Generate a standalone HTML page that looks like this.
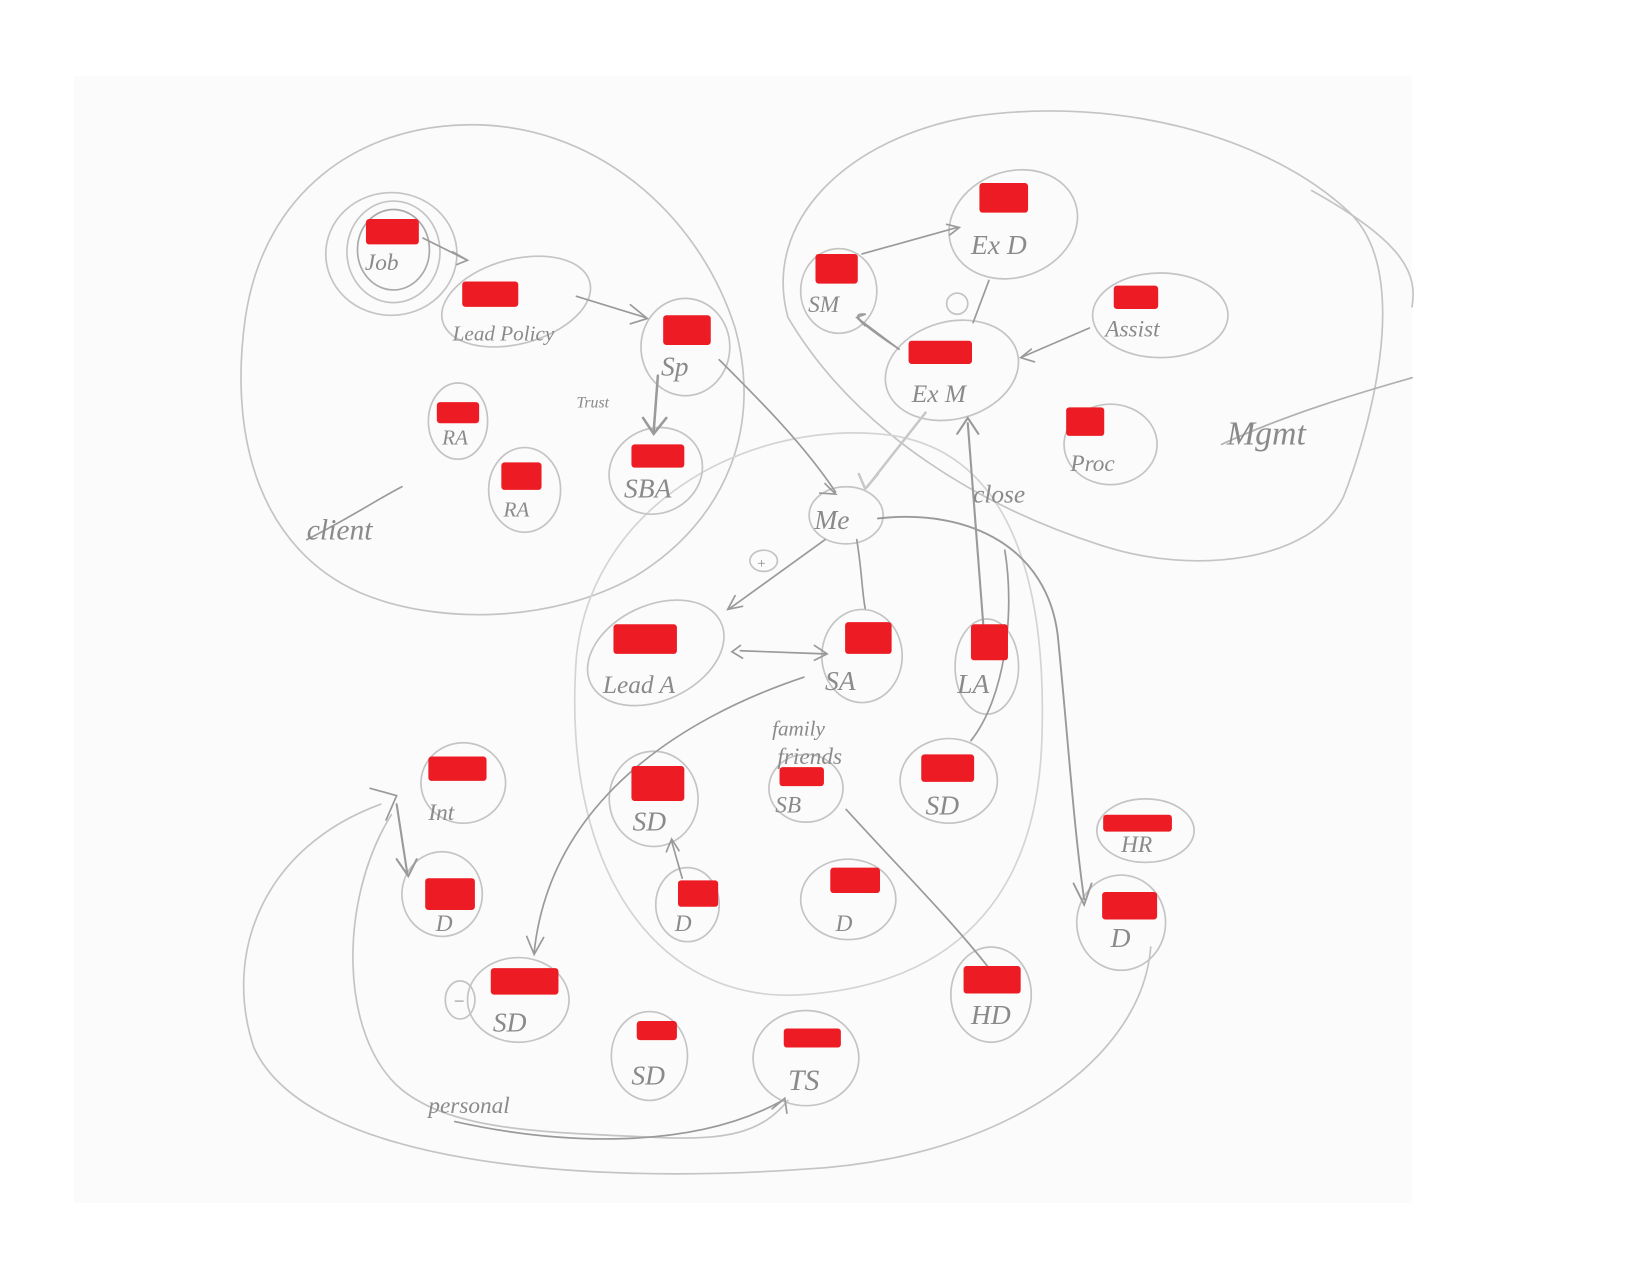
<!DOCTYPE html>
<html><head><meta charset="utf-8"><style>
html,body{margin:0;padding:0;background:#fff;width:1650px;height:1275px;overflow:hidden}
svg{display:block}
text{font-family:"Liberation Serif",serif;font-style:italic;fill:#8a8a8a}
</style></head><body>
<svg width="1650" height="1275" viewBox="0 0 1560 1205" preserveAspectRatio="none" xmlns="http://www.w3.org/2000/svg">
<rect x="0" y="0" width="1560" height="1205" fill="#fff"/>
<rect x="70" y="72" width="1265" height="1065" fill="#fbfbfb"/>
<g fill="none" stroke="#c4c4c4" stroke-width="1.6" stroke-linecap="round">
<!-- client region -->
<path d="M340 560 C250 520 215 420 232 300 C250 180 340 120 440 118 C560 115 660 200 695 310 C720 400 690 490 600 545 C520 590 410 590 340 560"/>
<!-- mgmt region -->
<path d="M745 300 C720 210 800 130 920 110 C1060 90 1200 130 1275 200 C1340 260 1290 420 1270 470 C1240 530 1130 545 1040 515 C930 480 810 410 745 300"/>
<path d="M1240 180 C1330 230 1340 260 1335 290"/>
<!-- center circle -->
<path d="M545 620 C560 480 700 400 830 410 C960 420 990 560 985 700 C980 850 900 930 760 940 C620 950 530 820 545 620" stroke="#d4d4d4"/>
<!-- bottom large loop -->
<path d="M360 760 C250 800 210 900 240 990 C290 1100 550 1120 760 1105 C950 1095 1080 1000 1088 895"/>
<path d="M370 770 C320 850 320 980 380 1030 C430 1070 520 1070 620 1075 C690 1078 720 1070 745 1040"/>
<!-- node ellipses -->
<ellipse cx="370" cy="240" rx="62" ry="58"/>
<ellipse cx="372" cy="238" rx="44" ry="48"/>
<ellipse cx="372" cy="236" rx="34" ry="38" stroke="#aaa"/>
<ellipse cx="488" cy="285" rx="72" ry="40" transform="rotate(-15 488 285)"/>
<ellipse cx="648" cy="328" rx="42" ry="46"/>
<ellipse cx="433" cy="398" rx="28" ry="36"/>
<ellipse cx="620" cy="445" rx="45" ry="40" transform="rotate(-25 620 445)"/>
<ellipse cx="496" cy="463" rx="34" ry="40"/>
<ellipse cx="958" cy="212" rx="62" ry="50" transform="rotate(-20 958 212)"/>
<ellipse cx="793" cy="275" rx="36" ry="40"/>
<ellipse cx="1097" cy="298" rx="64" ry="40"/>
<ellipse cx="900" cy="350" rx="64" ry="46" transform="rotate(-15 900 350)"/>
<ellipse cx="1050" cy="420" rx="44" ry="38"/>
<ellipse cx="800" cy="487" rx="35" ry="27"/>
<ellipse cx="620" cy="617" rx="68" ry="45" transform="rotate(-25 620 617)"/>
<ellipse cx="815" cy="620" rx="38" ry="44"/>
<ellipse cx="933" cy="630" rx="30" ry="45"/>
<ellipse cx="438" cy="740" rx="40" ry="38"/>
<ellipse cx="618" cy="755" rx="42" ry="45"/>
<ellipse cx="762" cy="745" rx="35" ry="32"/>
<ellipse cx="897" cy="738" rx="46" ry="40"/>
<ellipse cx="1083" cy="785" rx="46" ry="30"/>
<ellipse cx="418" cy="845" rx="38" ry="40"/>
<ellipse cx="650" cy="855" rx="30" ry="35"/>
<ellipse cx="802" cy="850" rx="45" ry="38"/>
<ellipse cx="1060" cy="872" rx="42" ry="45"/>
<ellipse cx="490" cy="945" rx="48" ry="40"/>
<ellipse cx="937" cy="940" rx="38" ry="45"/>
<ellipse cx="614" cy="998" rx="36" ry="42"/>
<ellipse cx="762" cy="1000" rx="50" ry="45"/>
<ellipse cx="435" cy="945" rx="14" ry="18"/>
<ellipse cx="722" cy="530" rx="13" ry="10"/>
<ellipse cx="905" cy="287" rx="10" ry="10"/>
</g>
<!-- connectors -->
<g fill="none" stroke="#9a9a9a" stroke-width="1.6" stroke-linecap="round">
<path d="M400 225 L440 245 M428 238 L442 246 L432 250"/>
<path d="M545 280 L610 300 M596 288 L612 301 L596 306"/>
<path d="M622 355 L618 408 M608 395 L618 410 L630 395" stroke-width="2.4"/>
<path d="M680 340 C720 380 760 420 790 465 M780 457 L790 467 L775 466"/>
<path d="M875 390 L820 460 M830 448 L818 462 L812 448" stroke="#c8c8c8" stroke-width="2.4"/>
<path d="M780 510 L690 575 M695 563 L688 576 L702 573"/>
<path d="M810 510 C815 540 815 560 818 575"/>
<path d="M700 615 L780 618 M770 610 L782 618 L770 624 M700 610 L692 616 L702 622"/>
<path d="M915 400 L930 595 M905 410 L915 395 L925 410" stroke-width="2"/>
<path d="M830 490 C920 480 990 520 1000 600 C1010 700 1015 780 1025 850 M1015 835 L1025 855 L1032 835" stroke-width="1.8"/>
<path d="M760 640 C640 680 520 760 505 900 M498 885 L505 902 L514 886"/>
<path d="M635 795 L645 830 M630 805 L635 793 L642 804"/>
<path d="M800 765 C850 820 900 870 935 915"/>
<path d="M950 520 C960 580 950 660 918 700"/>
<path d="M375 760 L385 825 M375 812 L386 828 L394 812" stroke-width="2"/>
<path d="M350 745 L375 752 L365 775"/>
<path d="M430 1060 C520 1080 650 1090 740 1040 M730 1048 L742 1038 L744 1052"/>
<path d="M810 300 L850 330 M818 297 L810 300 L818 308"/>
<path d="M850 330 C820 310 800 295 818 297"/>
<path d="M1030 310 L965 338 M975 330 L965 338 L978 342"/>
<path d="M815 240 L905 215 M895 212 L907 215 L898 222"/>
<path d="M935 265 L920 305"/>
<path d="M290 510 C330 490 360 470 380 460"/>
<path d="M1155 420 C1220 390 1290 370 1335 357" stroke="#b0b0b0"/>
</g>
<!-- labels -->
<g font-size="26">
<text x="345" y="255" font-size="22">Job</text>
<text x="428" y="322" font-size="20">Lead Policy</text>
<text x="625" y="355">Sp</text>
<text x="545" y="385" font-size="15">Trust</text>
<text x="418" y="420" font-size="20">RA</text>
<text x="590" y="470">SBA</text>
<text x="476" y="488" font-size="20">RA</text>
<text x="290" y="510" font-size="28">client</text>
<text x="918" y="240">Ex D</text>
<text x="764" y="295" font-size="22">SM</text>
<text x="1045" y="318" font-size="22">Assist</text>
<text x="862" y="380" font-size="24">Ex M</text>
<text x="1012" y="445" font-size="22">Proc</text>
<text x="1160" y="420" font-size="32">Mgmt</text>
<text x="920" y="475" font-size="24">close</text>
<text x="770" y="500" font-size="26">Me</text>
<text x="715" y="537" font-size="14">+</text>
<text x="570" y="655" font-size="24">Lead A</text>
<text x="780" y="652">SA</text>
<text x="905" y="655">LA</text>
<text x="730" y="695" font-size="20">family</text>
<text x="735" y="722" font-size="22">friends</text>
<text x="405" y="775" font-size="22">Int</text>
<text x="598" y="785">SD</text>
<text x="733" y="768" font-size="22">SB</text>
<text x="875" y="770">SD</text>
<text x="1060" y="805" font-size="22">HR</text>
<text x="412" y="880" font-size="22">D</text>
<text x="638" y="880" font-size="22">D</text>
<text x="790" y="880" font-size="22">D</text>
<text x="1050" y="895">D</text>
<text x="466" y="975">SD</text>
<text x="428" y="952" font-size="18">−</text>
<text x="918" y="968">HD</text>
<text x="597" y="1025">SD</text>
<text x="745" y="1030" font-size="28">TS</text>
<text x="405" y="1052" font-size="22">personal</text>
</g>
<!-- red redactions -->
<g fill="#ed1c24">
<rect x="346" y="207" width="50" height="24" rx="3"/>
<rect x="437" y="266" width="53" height="24" rx="3"/>
<rect x="627" y="298" width="45" height="28" rx="3"/>
<rect x="413" y="380" width="40" height="20" rx="3"/>
<rect x="597" y="420" width="50" height="22" rx="3"/>
<rect x="474" y="437" width="38" height="26" rx="3"/>
<rect x="926" y="173" width="46" height="28" rx="3"/>
<rect x="771" y="240" width="40" height="28" rx="3"/>
<rect x="1053" y="270" width="42" height="22" rx="3"/>
<rect x="859" y="322" width="60" height="22" rx="3"/>
<rect x="1008" y="385" width="36" height="27" rx="3"/>
<rect x="580" y="590" width="60" height="28" rx="3"/>
<rect x="799" y="588" width="44" height="30" rx="3"/>
<rect x="918" y="590" width="35" height="34" rx="3"/>
<rect x="405" y="715" width="55" height="23" rx="3"/>
<rect x="597" y="724" width="50" height="33" rx="3"/>
<rect x="737" y="725" width="42" height="18" rx="3"/>
<rect x="871" y="713" width="50" height="26" rx="3"/>
<rect x="1043" y="770" width="65" height="16" rx="3"/>
<rect x="402" y="830" width="47" height="30" rx="3"/>
<rect x="641" y="832" width="38" height="25" rx="3"/>
<rect x="785" y="820" width="47" height="24" rx="3"/>
<rect x="1042" y="843" width="52" height="26" rx="3"/>
<rect x="464" y="915" width="64" height="25" rx="3"/>
<rect x="911" y="913" width="54" height="26" rx="3"/>
<rect x="602" y="965" width="38" height="18" rx="3"/>
<rect x="741" y="972" width="54" height="18" rx="3"/>
</g>
</svg>
</body></html>
